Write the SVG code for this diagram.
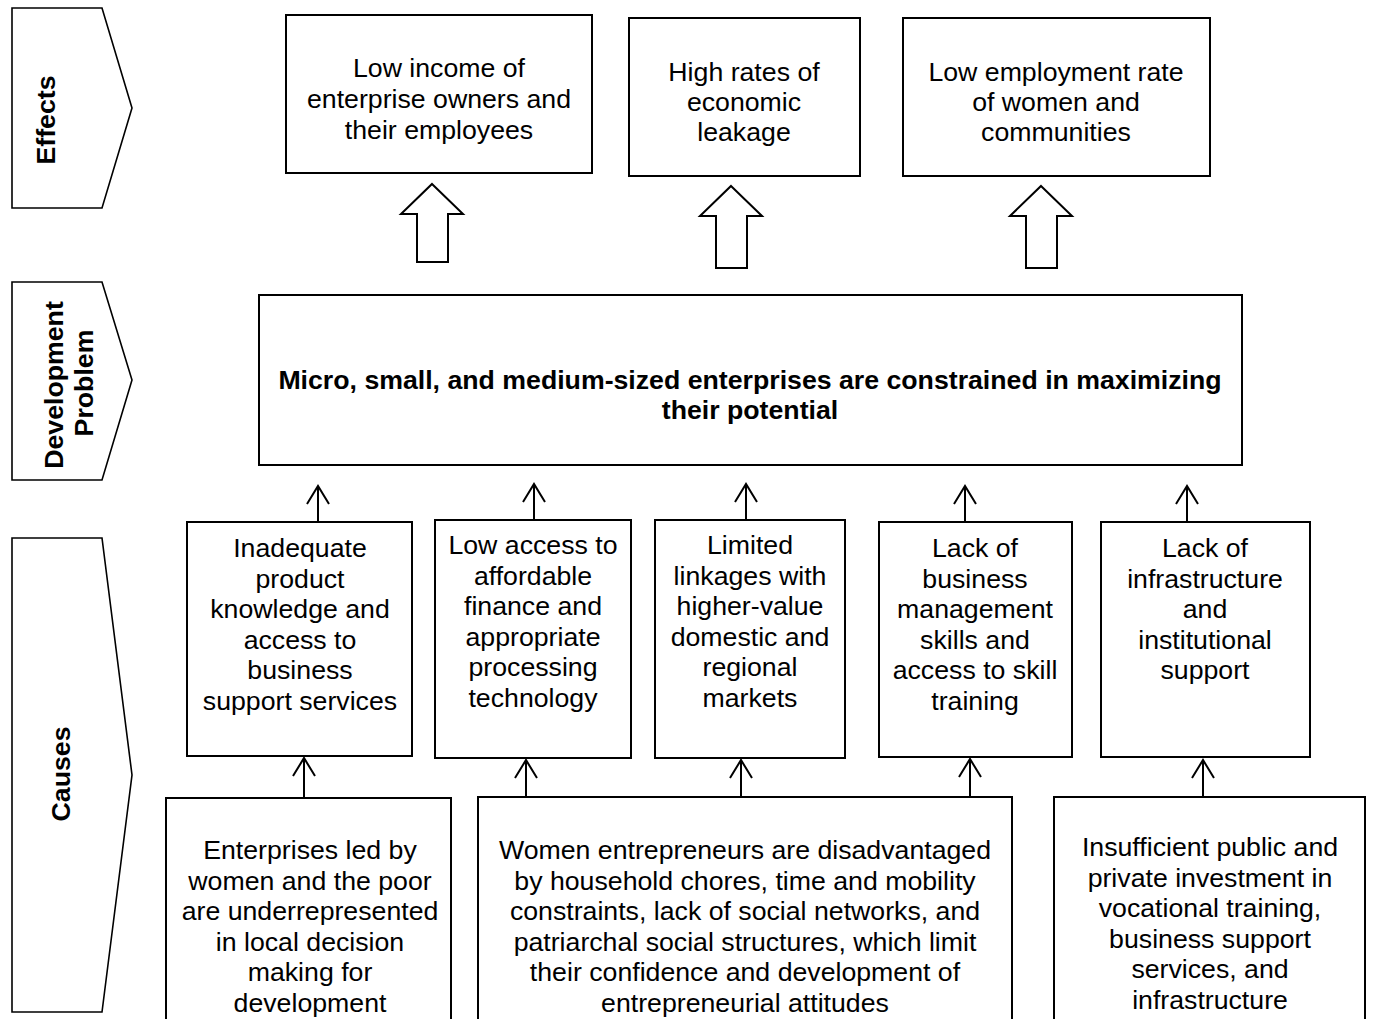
<svg xmlns="http://www.w3.org/2000/svg" width="1374" height="1019" viewBox="0 0 1374 1019">
<style>
text{font-family:"Liberation Sans",Arial,sans-serif;font-size:26.7px;fill:#000;text-anchor:middle}
.b{font-weight:bold}
.box{fill:#fff;stroke:#000;stroke-width:2}
.lbl{fill:#fff;stroke:#000;stroke-width:1.6}
.blk{fill:#fff;stroke:#000;stroke-width:2;stroke-linejoin:miter}
.con{fill:none;stroke:#000;stroke-width:2}
</style>
<defs>
<marker id="ah" markerUnits="userSpaceOnUse" markerWidth="30" markerHeight="30" viewBox="-20 -15 30 30" refX="0" refY="0" orient="auto" overflow="visible">
<path d="M-18,-11 L0,0 L-18,11" fill="none" stroke="#000" stroke-width="2"/>
</marker>
</defs>
<rect width="1374" height="1019" fill="#fff"/>

<g id="label-effects">
<polygon class="lbl" points="12,8 102,8 132,108 102,208 12,208"/>
<text class="b" transform="translate(55,120) rotate(-90)">Effects</text>
</g>
<g id="label-problem">
<polygon class="lbl" points="12,282 102,282 132,380 102,480 12,480"/>
<text class="b" transform="translate(63,385) rotate(-90)">Development</text>
<text class="b" transform="translate(93,383) rotate(-90)">Problem</text>
</g>
<g id="label-causes">
<polygon class="lbl" points="12,538 102,538 132,775 102,1012 12,1012"/>
<text class="b" transform="translate(70,774) rotate(-90)">Causes</text>
</g>

<g id="effect1">
<rect class="box" x="286" y="15" width="306" height="158"/>
<text x="439" y="77">Low income of</text>
<text x="439" y="108">enterprise owners and</text>
<text x="439" y="139">their employees</text>
</g>
<g id="effect2">
<rect class="box" x="629" y="18" width="231" height="158"/>
<text x="744" y="81">High rates of</text>
<text x="744" y="111">economic</text>
<text x="744" y="141">leakage</text>
</g>
<g id="effect3">
<rect class="box" x="903" y="18" width="307" height="158"/>
<text x="1056" y="81">Low employment rate</text>
<text x="1056" y="111">of women and</text>
<text x="1056" y="141">communities</text>
</g>

<g id="problem">
<rect class="box" x="259" y="295" width="983" height="170"/>
<text class="b" x="750" y="389">Micro, small, and medium-sized enterprises are constrained in maximizing</text>
<text class="b" x="750" y="419">their potential</text>
</g>

<g id="cause1">
<rect class="box" x="187" y="522" width="225" height="234"/>
<text x="300" y="557">Inadequate</text>
<text x="300" y="587.5">product</text>
<text x="300" y="618">knowledge and</text>
<text x="300" y="648.5">access to</text>
<text x="300" y="679">business</text>
<text x="300" y="709.5">support services</text>
</g>
<g id="cause2">
<rect class="box" x="435" y="520" width="196" height="238"/>
<text x="533" y="554">Low access to</text>
<text x="533" y="584.5">affordable</text>
<text x="533" y="615">finance and</text>
<text x="533" y="645.5">appropriate</text>
<text x="533" y="676">processing</text>
<text x="533" y="706.5">technology</text>
</g>
<g id="cause3">
<rect class="box" x="655" y="520" width="190" height="238"/>
<text x="750" y="554">Limited</text>
<text x="750" y="584.5">linkages with</text>
<text x="750" y="615">higher-value</text>
<text x="750" y="645.5">domestic and</text>
<text x="750" y="676">regional</text>
<text x="750" y="706.5">markets</text>
</g>
<g id="cause4">
<rect class="box" x="879" y="522" width="193" height="235"/>
<text x="975" y="557">Lack of</text>
<text x="975" y="587.5">business</text>
<text x="975" y="618">management</text>
<text x="975" y="648.5">skills and</text>
<text x="975" y="679">access to skill</text>
<text x="975" y="709.5">training</text>
</g>
<g id="cause5">
<rect class="box" x="1101" y="522" width="209" height="235"/>
<text x="1205" y="557">Lack of</text>
<text x="1205" y="587.5">infrastructure</text>
<text x="1205" y="618">and</text>
<text x="1205" y="648.5">institutional</text>
<text x="1205" y="679">support</text>
</g>

<g id="root1">
<rect class="box" x="166" y="798" width="285" height="240"/>
<text x="310" y="859">Enterprises led by</text>
<text x="310" y="889.5">women and the poor</text>
<text x="310" y="920">are underrepresented</text>
<text x="310" y="950.5">in local decision</text>
<text x="310" y="981">making for</text>
<text x="310" y="1011.5">development</text>
</g>
<g id="root2">
<rect class="box" x="478" y="797" width="534" height="240"/>
<text x="745" y="859">Women entrepreneurs are disadvantaged</text>
<text x="745" y="889.5">by household chores, time and mobility</text>
<text x="745" y="920">constraints, lack of social networks, and</text>
<text x="745" y="950.5">patriarchal social structures, which limit</text>
<text x="745" y="981">their confidence and development of</text>
<text x="745" y="1011.5">entrepreneurial attitudes</text>
</g>
<g id="root3">
<rect class="box" x="1054" y="797" width="311" height="240"/>
<text x="1210" y="856">Insufficient public and</text>
<text x="1210" y="886.5">private investment in</text>
<text x="1210" y="917">vocational training,</text>
<text x="1210" y="947.5">business support</text>
<text x="1210" y="978">services, and</text>
<text x="1210" y="1008.5">infrastructure</text>
</g>

<g id="connectors">
<polygon class="blk" points="432,184 463,214 448,214 448,262 417,262 417,214 401,214"/>
<polygon class="blk" points="731,186 762,216 747,216 747,268 716,268 716,216 700,216"/>
<polygon class="blk" points="1041,186 1072,216 1057,216 1057,268 1026,268 1026,216 1010,216"/>
<line class="con" x1="318" y1="522" x2="318" y2="486" marker-end="url(#ah)"/>
<line class="con" x1="534" y1="520" x2="534" y2="484" marker-end="url(#ah)"/>
<line class="con" x1="746" y1="520" x2="746" y2="484" marker-end="url(#ah)"/>
<line class="con" x1="965" y1="522" x2="965" y2="486" marker-end="url(#ah)"/>
<line class="con" x1="1187" y1="522" x2="1187" y2="486" marker-end="url(#ah)"/>
<line class="con" x1="304" y1="798" x2="304" y2="758" marker-end="url(#ah)"/>
<line class="con" x1="526" y1="797" x2="526" y2="760" marker-end="url(#ah)"/>
<line class="con" x1="741" y1="797" x2="741" y2="760" marker-end="url(#ah)"/>
<line class="con" x1="970" y1="797" x2="970" y2="759" marker-end="url(#ah)"/>
<line class="con" x1="1203" y1="797" x2="1203" y2="760" marker-end="url(#ah)"/>
</g>
</svg>
